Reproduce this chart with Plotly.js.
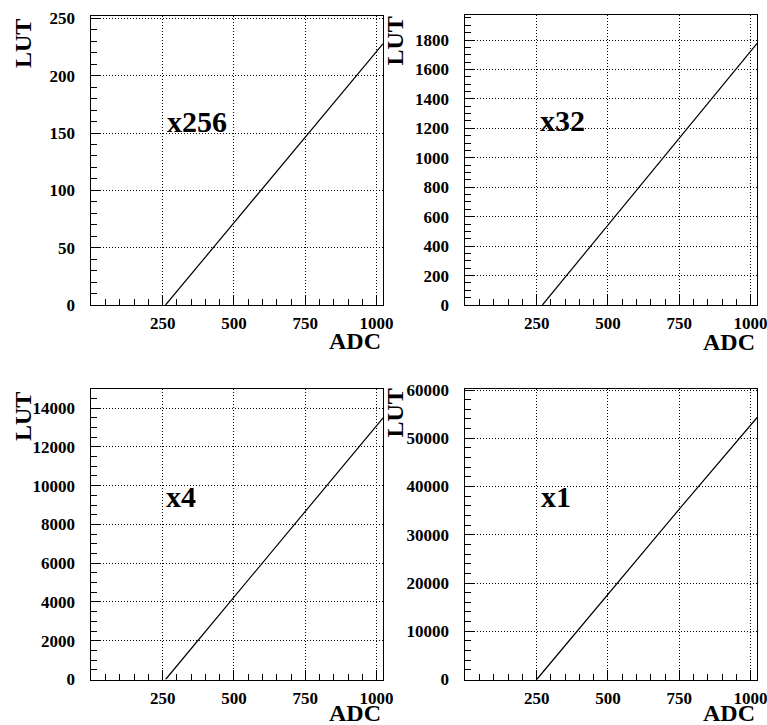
<!DOCTYPE html>
<html>
<head>
<meta charset="utf-8">
<script src="https://cdn.plot.ly/plotly-3.0.1.min.js"></script>
<style>html,body{margin:0;padding:0;background:#fff;}#chart{width:767px;height:725px;}</style>
</head>
<body>
<div id="chart"></div>
<script>
// Data (ADC -> LUT, four gain settings)
const panelLabels = ["x256", "x32", "x4", "x1"];
const adcX256 = [260, 750, 1023];
const lutX256 = [0, 146.5, 228];
const adcX32 = [270, 750, 1023];
const lutX32 = [0, 1132, 1778];
const adcX4 = [260, 750, 1023];
const lutX4 = [0, 8670, 13500];
const adcX1 = [250, 750, 1023];
const lutX1 = [0, 35300, 54300];
const xTickVals = [250, 500, 750, 1000];
const xTickText = ["250", "500", "750", "1000"];
const xAxisTitle = "ADC";
const yAxisTitle = "LUT";

const FONT = "Liberation Serif, Times New Roman, serif";
const series = [
  {x: adcX256, y: lutX256},
  {x: adcX32, y: lutX32},
  {x: adcX4, y: lutX4},
  {x: adcX1, y: lutX1}
];
const yRanges = [[0, 252.5], [0, 1972], [0, 15000], [0, 60270]];
const yDticks = [50, 200, 2000, 10000];
const yMinor = [10, 50, 500, 2000];
const W = 767, H = 725;
const xDomains = [[91.4/W, 383.4/W], [465.4/W, 757.4/W], [91.4/W, 383.4/W], [465.4/W, 757.4/W]];
const yDomains = [[1-305/H, 1-15.5/H], [1-305/H, 1-14.7/H], [1-679.5/H, 1-388.7/H], [1-679.5/H, 1-388.7/H]];

const traces = series.map((s, i) => ({
  type: 'scatter', mode: 'lines', x: s.x, y: s.y,
  xaxis: i === 0 ? 'x' : 'x' + (i + 1),
  yaxis: i === 0 ? 'y' : 'y' + (i + 1),
  line: {color: 'black', width: 1.2},
  showlegend: false, hoverinfo: 'skip'
}));

const layout = {
  width: W, height: H,
  margin: {l: 0, r: 0, t: 0, b: 0},
  paper_bgcolor: 'white', plot_bgcolor: 'white',
  showlegend: false,
  font: {family: FONT, color: 'black', size: 17, weight: 'bold'},
  annotations: []
};

const titlePos = [
  {lx: 165, ly: 122, ax: 383.4, ay: 341, ux: 22.5, uy: 17},
  {lx: 538, ly: 121, ax: 757.4, ay: 342, ux: 394, uy: 15},
  {lx: 164, ly: 496, ax: 383.4, ay: 713, ux: 22.5, uy: 390},
  {lx: 539, ly: 496, ax: 757.4, ay: 713, ux: 394, uy: 387}
];

for (let i = 0; i < 4; i++) {
  const sx = i === 0 ? '' : String(i + 1);
  layout['xaxis' + sx] = {
    domain: xDomains[i], range: [0, 1024], anchor: 'y' + sx,
    showline: true, mirror: true, linecolor: 'black', linewidth: 1,
    ticks: 'inside', ticklen: 10, tickcolor: 'black', tickwidth: 1,
    tickmode: 'array', tickvals: xTickVals, ticktext: xTickText,
    showgrid: true, gridcolor: 'black', gridwidth: 1, griddash: '1px,2px',
    zeroline: false, ticklabelstandoff: 3, ticklabeloverflow: 'allow',
    tickfont: {family: FONT, size: 17, color: 'black', weight: 'bold'},
    minor: {ticks: 'inside', ticklen: 6, tickcolor: 'black', tickwidth: 1, tickmode: 'linear', tick0: 0, dtick: 50, showgrid: false},
    fixedrange: true
  };
  layout['yaxis' + sx] = {
    domain: yDomains[i], range: yRanges[i], anchor: 'x' + sx,
    showline: true, mirror: true, linecolor: 'black', linewidth: 1,
    ticks: 'inside', ticklen: 10, tickcolor: 'black', tickwidth: 1,
    tickmode: 'linear', tick0: 0, dtick: yDticks[i], tickformat: 'd',
    showgrid: true, gridcolor: 'black', gridwidth: 1, griddash: '1px,2px',
    zeroline: false, ticklabelstandoff: 12, ticklabeloverflow: 'allow',
    tickfont: {family: FONT, size: 17, color: 'black', weight: 'bold'},
    minor: {ticks: 'inside', ticklen: 6, tickcolor: 'black', tickwidth: 1, tickmode: 'linear', tick0: 0, dtick: yMinor[i], showgrid: false},
    fixedrange: true
  };
  const p = titlePos[i];
  layout.annotations.push({
    xref: 'paper', yref: 'paper', x: p.lx / W, y: 1 - p.ly / H,
    xanchor: 'left', yanchor: 'middle', showarrow: false,
    text: panelLabels[i], font: {family: FONT, size: 30, color: 'black', weight: 'bold'}
  });
  layout.annotations.push({
    xref: 'paper', yref: 'paper', x: p.ax / W, y: 1 - p.ay / H,
    xanchor: 'right', yanchor: 'middle', showarrow: false,
    text: xAxisTitle, font: {family: FONT, size: 24, color: 'black', weight: 'bold'}
  });
  layout.annotations.push({
    xref: 'paper', yref: 'paper', x: p.ux / W, y: 1 - p.uy / H,
    xanchor: 'center', yanchor: 'top', showarrow: false, textangle: -90,
    text: yAxisTitle, font: {family: FONT, size: 24, color: 'black', weight: 'bold'}
  });
}

Plotly.newPlot('chart', traces, layout, {staticPlot: true, displayModeBar: false});
</script>
</body>
</html>
